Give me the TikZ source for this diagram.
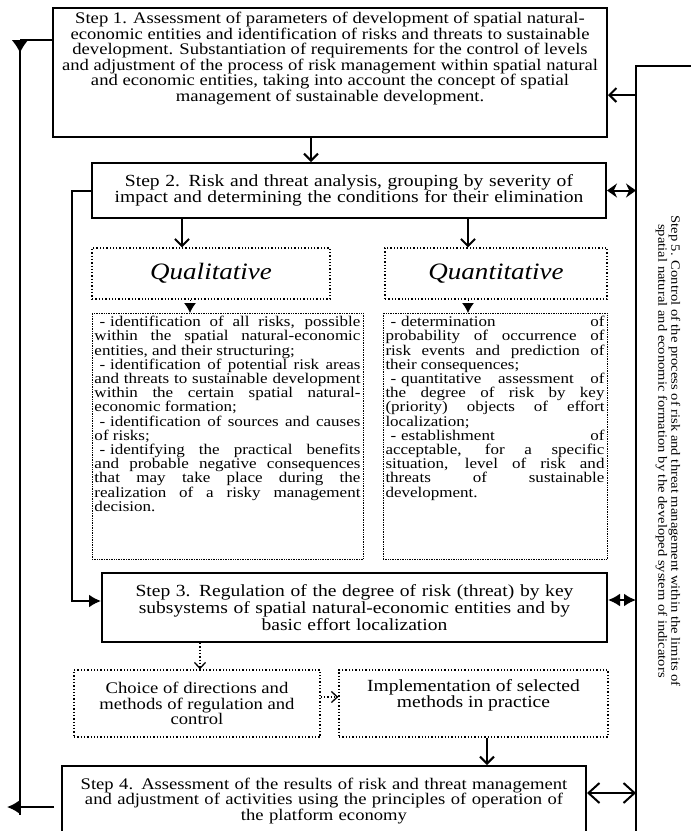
\documentclass[tikz,border=0pt]{standalone}
\usepackage{fontspec}
\setmainfont{Liberation Serif}
\newfontfamily\wideserif[FakeStretch=1.15]{Liberation Serif}
\usetikzlibrary{arrows.meta, positioning, calc}
\newcommand{\stepfont}{\wideserif\fontsize{17}{15.5}\selectfont}
\newcommand{\onefont}{\wideserif\fontsize{16.2}{15.5}\selectfont}
\newcommand{\listfont}{\wideserif\fontsize{14.8}{14.2}\selectfont}
\newcommand{\sidefont}{\wideserif\fontsize{12.7}{13}\selectfont}
\newcommand{\kindfont}{\wideserif\itshape\fontsize{23.5}{26}\selectfont}
\newcommand{\itm}{\hspace*{5pt}-\hspace{5pt}}
\hbadness=10000
\hyphenpenalty=10000

\begin{document}
\begin{tikzpicture}[x=1pt, y=-1pt,
    stepbox/.style={draw, line width=2pt, inner sep=0pt, align=center},
    dotbox/.style={draw, dotted, line width=1.3pt, inner sep=0pt, align=center},
    listbox/.style={draw, densely dotted, line width=0.7pt, inner sep=2.5pt},
    conn/.style={line width=2pt},
    arr/.style={conn, -{Straight Barb[length=7pt,width=14pt]}},
    farr/.style={conn, -{Latex[length=12pt,width=13pt]}},
    darr/.style={line width=1.3pt, dotted, -{Straight Barb[length=6pt,width=11pt]}},
    tarr/.style={line width=1pt, dotted, -{Latex[length=10pt,width=12pt]}}]
    \useasboundingbox (0,0) rectangle (691,831);
    \clip (0,0) rectangle (691,831);

    % Step 1
    \node[stepbox, anchor=north, minimum width=554pt, minimum height=129pt,
          inner ysep=3pt, font=\onefont] (s1) at (330,7)
        {\parbox[t][120pt][t]{548pt}{\centering
        Step 1. Assessment of parameters of development of spatial natural-\\
        economic entities and identification of risks and threats to sustainable\\
        development. Substantiation of requirements for the control of levels\\
        and adjustment of the process of risk management within spatial natural\\
        and economic entities, taking into account the concept of spatial\\
        management of sustainable development.}};

    % Step 2
    \node[stepbox, minimum width=514pt, minimum height=55pt, text width=505pt,
          font=\stepfont] (s2) at (349,190.5)
        {Step 2. Risk and threat analysis, grouping by severity of\\
        impact and determining the conditions for their elimination};

    % Two kinds of analysis
    \node[dotbox, minimum width=238pt, minimum height=51pt, font=\kindfont] (qual) at (211,273.5) {Qualitative};
    \node[dotbox, minimum width=222pt, minimum height=51pt, font=\kindfont] (quant) at (496,273.5) {Quantitative};

    % Lists
    \node[listbox, anchor=north, minimum width=271pt, minimum height=246pt, font=\listfont] (qlist) at (227.5,313)
        {\parbox[t][240pt][t]{266pt}{%
        \itm identification of all risks, possible\linebreak
        within the spatial natural-economic\linebreak
        entities, and their structuring;\par
        \itm identification of potential risk areas\linebreak
        and threats to sustainable development\linebreak
        within the certain spatial natural-\linebreak
        economic formation;\par
        \itm identification of sources and causes\linebreak
        of risks;\par
        \itm identifying the practical benefits\linebreak
        and probable negative consequences\linebreak
        that may take place during the\linebreak
        realization of a risky management\linebreak
        decision.}};
    \node[listbox, anchor=north, minimum width=224pt, minimum height=246pt, font=\listfont] (nlist) at (495,313)
        {\parbox[t][240pt][t]{219pt}{%
        \itm determination of\linebreak
        probability of occurrence of\linebreak
        risk events and prediction of\linebreak
        their consequences;\par
        \itm quantitative assessment of\linebreak
        the degree of risk by key\linebreak
        (priority) objects of effort\linebreak
        localization;\par
        \itm establishment of\linebreak
        acceptable, for a specific\linebreak
        situation, level of risk and\linebreak
        threats of sustainable\linebreak
        development.}};

    % Step 3
    \node[stepbox, minimum width=505pt, minimum height=69pt, text width=495pt,
          font=\stepfont] (s3) at (354.5,607.5)
        {Step 3. Regulation of the degree of risk (threat) by key\\
        subsystems of spatial natural-economic entities and by\\
        basic effort localization};

    % Choice and implementation
    \node[dotbox, minimum width=246pt, minimum height=67pt, font=\onefont] (choice) at (197,703.5)
        {Choice of directions and\\methods of regulation and\\control};
    \node[dotbox, minimum width=269pt, minimum height=67pt, font=\stepfont] (impl) at (473.5,703.5)
        {Implementation of selected\\methods in practice\\[4pt]};

    % Step 4
    \node[stepbox, anchor=north, minimum width=524pt, minimum height=70pt, text width=515pt,
          font=\onefont] (s4) at (324,765)
        {Step 4. Assessment of the results of risk and threat management\\
        and adjustment of activities using the principles of operation of\\
        the platform economy\\[4pt]};

    % Step 5 (side text)
    \node[rotate=-90, align=center, font=\sidefont] (s5) at (668,451)
        {Step 5. Control of the process of risk and threat management within the limits of\\
        spatial natural and economic formation by the developed system of indicators};

    % Right control line
    \coordinate (rtop) at (691,66);
    \coordinate (rcorner) at (636,66);
    \coordinate (rbot) at (636,835);
    \coordinate (r1) at (636,95);
    \draw[line width=1.5pt] (rtop) -- (rcorner) -- (rbot);

    % Left return line
    \coordinate (l1) at (20,40);
    \coordinate (l2) at (20,815);
    \coordinate (l3) at (7,807);
    \draw[conn] (s1.west |- l1) -- (l1);
    \draw[conn, {Latex[reversed,length=13pt,width=17pt]}-] (l1) -- (l2);
    \draw[farr, shorten <=7pt] (s4.west |- l3) -- (l3);

    % Main flow
    \draw[arr] ([xshift=-19pt]s1.south) -- ([xshift=-19pt]s1.south |- s2.north);
    \draw[arr] ([xshift=-29pt]qual.north |- s2.south) -- ([xshift=-29pt]qual.north);
    \draw[arr] ([xshift=-28pt]quant.north |- s2.south) -- ([xshift=-28pt]quant.north);
    \draw[tarr] ([xshift=-21pt]qual.south) -- ([xshift=-21pt]qual.south |- qlist.north);
    \draw[tarr] ([xshift=-28pt]quant.south) -- ([xshift=-28pt]quant.south |- nlist.north);
    \coordinate (k3) at (72,601);
    \draw[farr] (s2.west) -| (k3) -- (k3 -| s3.west);
    \draw[darr] ([xshift=3pt]choice.north |- s3.south) -- ([xshift=3pt]choice.north);
    \draw[darr] ([yshift=6.5pt]choice.east) -- ([yshift=6.5pt]choice.east -| impl.west);
    \draw[arr] ([xshift=13.5pt]impl.south) -- ([xshift=13.5pt]impl.south |- s4.north);

    % Links to the control line
    \draw[arr] (r1) -- (r1 -| s1.east);
    \draw[conn, {Stealth[length=10pt,width=14pt]}-{Stealth[length=10pt,width=14pt]}] (s2.east) -- (s2.east -| rcorner);
    \draw[conn, {Latex[length=12pt,width=13pt]}-{Latex[length=12pt,width=13pt]}] ([yshift=7.5pt]s3.east) -- ([yshift=7.5pt]s3.east -| rcorner);
    \draw[conn, {Straight Barb[length=11pt,width=20pt]}-{Straight Barb[length=11pt,width=20pt]}] ([yshift=8pt]s4.east) -- ([yshift=8pt]s4.east -| rcorner);
\end{tikzpicture}
\end{document}
